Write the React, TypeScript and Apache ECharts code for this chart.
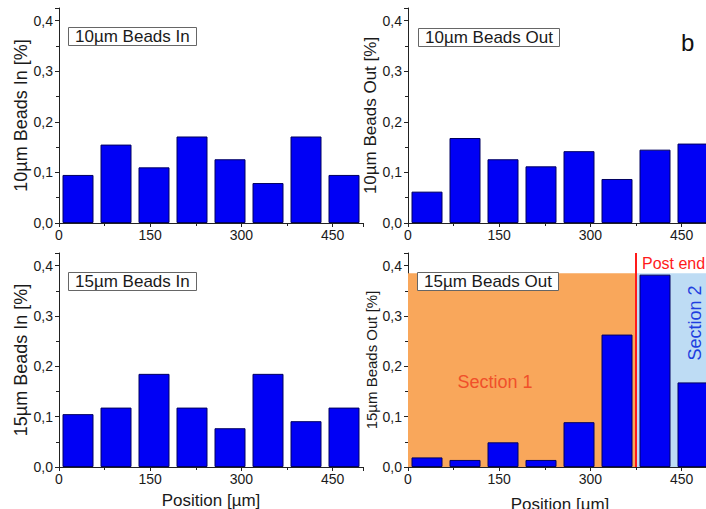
import React, { useEffect, useRef } from "react";
import * as echarts from "echarts";

const binCenters = [31.25, 93.75, 156.25, 218.75, 281.25, 343.75, 406.25, 468.75];
const beads10In = [0.095, 0.155, 0.11, 0.171, 0.126, 0.079, 0.171, 0.095];
const beads10Out = [0.062, 0.168, 0.126, 0.112, 0.142, 0.087, 0.145, 0.157];
const beads15In = [0.105, 0.118, 0.185, 0.118, 0.077, 0.185, 0.091, 0.118];
const beads15Out = [0.019, 0.014, 0.049, 0.014, 0.089, 0.263, 0.382, 0.168];
const xTicks = [0, 150, 300, 450];
const yTicks = [0, 0.1, 0.2, 0.3, 0.4];
const panelTitles = ["10µm Beads In", "10µm Beads Out", "15µm Beads In", "15µm Beads Out"];
const yNames = ["10µm Beads In [%]", "10µm Beads Out [%]", "15µm Beads In [%]", "15µm Beads Out [%]"];
const postEnd = 375;
const sectionTop = 0.385;
const xMax = 500;

const FONT = "'Liberation Sans', Arial, sans-serif";
const TXT = "#1a1a1a";

export default function App() {
  const ref = useRef<HTMLDivElement>(null);
  useEffect(() => {
    document.body.style.margin = "0";
    const chart = echarts.init(ref.current!, undefined, { renderer: "svg" });
    const grids = [
      { left: 59, top: 8, width: 304, height: 215, outerBoundsMode: "none", containLabel: false },
      { left: 408, top: 8, width: 304, height: 215, outerBoundsMode: "none", containLabel: false },
      { left: 59, top: 253, width: 304, height: 214, outerBoundsMode: "none", containLabel: false },
      { left: 408, top: 253, width: 304, height: 214, outerBoundsMode: "none", containLabel: false },
    ];
    const seriesData = [beads10In, beads10Out, beads15In, beads15Out];
    const isTick = (arr: number[], v: number) => arr.some((t) => Math.abs(t - v) < 1e-6);
    const xAxes = grids.map((_, i) => ({
      type: "value",
      gridIndex: i,
      min: 0,
      max: xMax,
      interval: 150,
      splitLine: { show: false },
      axisLine: { show: true, lineStyle: { color: "#222", width: 1 } },
      axisTick: { show: true, length: 4, lineStyle: { color: "#222" } },
      minorTick: { show: true, splitNumber: 2, length: 3, lineStyle: { color: "#222" } },
      axisLabel: {
        fontSize: 14,
        fontFamily: FONT,
        color: TXT,
        margin: 5,
        formatter: (v: number) => (isTick(xTicks, v) ? String(v) : ""),
      },
      name: i >= 2 ? "Position [µm]" : "",
      nameLocation: "middle",
      nameGap: i === 3 ? 29 : 25,
      nameTextStyle: { fontSize: 17, fontFamily: FONT, color: TXT },
    }));
    const yAxes = grids.map((_, i) => ({
      type: "value",
      gridIndex: i,
      min: 0,
      max: 0.425,
      interval: 0.1,
      splitLine: { show: false },
      axisLine: { show: true, lineStyle: { color: "#222", width: 1 } },
      axisTick: { show: true, length: 4, lineStyle: { color: "#222" } },
      minorTick: { show: true, splitNumber: 2, length: 3, lineStyle: { color: "#222" } },
      axisLabel: {
        fontSize: 14,
        fontFamily: FONT,
        color: TXT,
        margin: 6,
        formatter: (v: number) => (isTick(yTicks, v) ? v.toFixed(1).replace(".", ",") : ""),
      },
      name: yNames[i],
      nameLocation: "middle",
      nameGap: i === 3 ? 29 : 26,
      nameTextStyle: { fontSize: i === 3 ? 15 : i === 1 ? 17 : 18, fontFamily: FONT, color: TXT },
    }));
    const series: any[] = [
      {
        type: "line",
        xAxisIndex: 3,
        yAxisIndex: 3,
        data: [],
        z: 1,
        silent: true,
        markArea: {
          silent: true,
          data: [
            [
              { xAxis: 0, yAxis: 0, itemStyle: { color: "#F9A75B" } },
              { xAxis: postEnd, yAxis: sectionTop },
            ],
            [
              { xAxis: postEnd, yAxis: 0, itemStyle: { color: "#BEDCF4" } },
              { xAxis: xMax, yAxis: sectionTop },
            ],
          ],
        },
        markLine: {
          silent: true,
          symbol: "none",
          label: { show: false },
          lineStyle: { color: "#FF1A1A", width: 2, type: "solid" },
          data: [{ xAxis: postEnd }],
        },
      },
    ];
    seriesData.forEach((vals, i) => {
      series.push({
        type: "bar",
        xAxisIndex: i,
        yAxisIndex: i,
        barWidth: 31,
        z: 3,
        itemStyle: { color: "#0000F5", borderColor: "#000060", borderWidth: 1 },
        data: binCenters.map((c, k) => [c, vals[k]]),
      });
    });
    const titlePos = [
      { left: 68, top: 27 },
      { left: 418, top: 28 },
      { left: 68, top: 272 },
      { left: 417, top: 272 },
    ];
    const titles = panelTitles.map((t, i) => ({
      text: t,
      left: titlePos[i].left,
      top: titlePos[i].top,
      padding: [1, 7, 1, 7],
      borderColor: "#666",
      borderWidth: 1,
      backgroundColor: "#fff",
      textStyle: { fontSize: 17, fontWeight: "normal", fontFamily: FONT, color: TXT, lineHeight: 17 },
      z: 10,
    }));
    chart.setOption({
      animation: false,
      backgroundColor: "#fff",
      title: titles,
      grid: grids,
      xAxis: xAxes,
      yAxis: yAxes,
      series,
      graphic: [
        {
          type: "text",
          x: 681,
          y: 42,
          z: 20,
          style: { text: "b", fontSize: 24, fontFamily: FONT, fill: "#111", verticalAlign: "middle" },
        },
        {
          type: "text",
          x: 642,
          y: 263,
          z: 20,
          style: { text: "Post end", fontSize: 16, fontFamily: FONT, fill: "#FF1A1A", verticalAlign: "middle" },
        },
        {
          type: "text",
          x: 495,
          y: 382,
          z: 20,
          style: {
            text: "Section 1",
            fontSize: 18,
            fontFamily: FONT,
            fill: "#F0502A",
            align: "center",
            verticalAlign: "middle",
          },
        },
        {
          type: "text",
          x: 695,
          y: 323,
          rotation: Math.PI / 2,
          z: 20,
          style: {
            text: "Section 2",
            fontSize: 18,
            fontFamily: FONT,
            fill: "#1E3FE0",
            align: "center",
            verticalAlign: "middle",
          },
        },
      ],
    });
    return () => chart.dispose();
  }, []);
  return (
    <div style={{ width: 706, height: 509, overflow: "hidden" }}>
      <div ref={ref} style={{ width: 730, height: 509 }} />
    </div>
  );
}
